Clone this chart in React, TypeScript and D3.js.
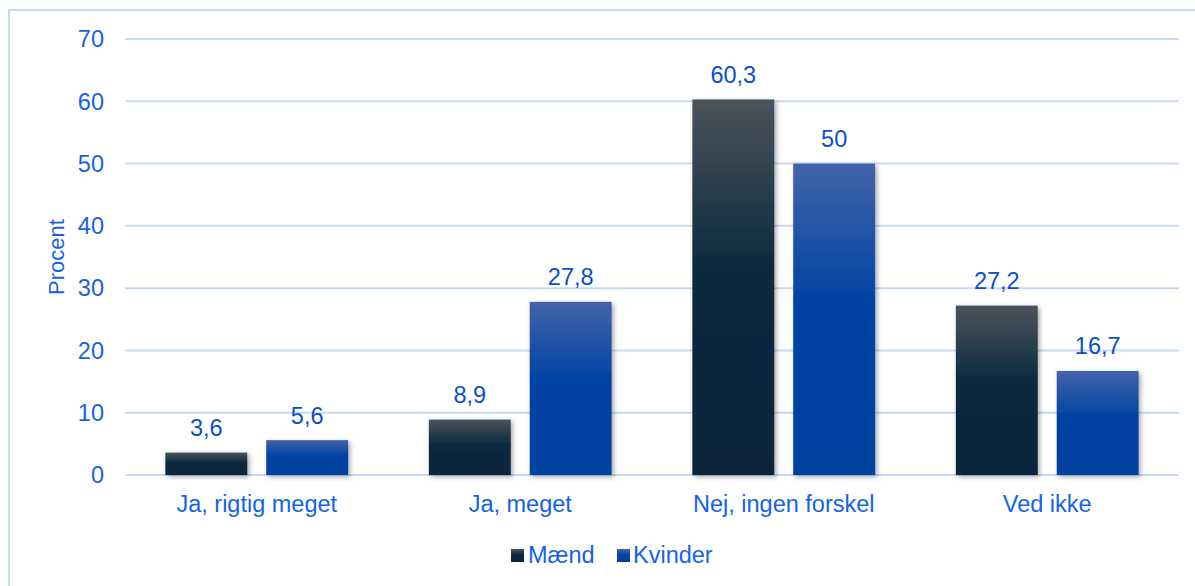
import React from "react";
import * as d3 from "d3";

const categories = ["Ja, rigtig meget", "Ja, meget", "Nej, ingen forskel", "Ved ikke"];
const seriesNames = ["Mænd", "Kvinder"];
const maend = [3.6, 8.9, 60.3, 27.2];
const kvinder = [5.6, 27.8, 50, 16.7];
const yTicks = [0, 10, 20, 30, 40, 50, 60, 70];

const W = 1195, H = 586;
const M = { left: 125, right: 16, top: 39, bottom: 111 };

export default function App() {
  const x0 = d3.scaleBand().domain(categories).range([M.left, W - M.right]).paddingInner(0).paddingOuter(0);
  const y = d3.scaleLinear().domain([0, 70]).range([H - M.bottom, M.top]);
  const x1 = d3.scaleBand().domain(seriesNames).range([0, x0.bandwidth()]).paddingInner(0.188).paddingOuter(0.4);
  const values = [maend, kvinder];
  const fills = ["url(#gM)", "url(#gK)"];
  const fmt = (v: number) => String(v).replace(".", ",");
  const tickColor = "#1463e6";
  const labelColor = "#0b4fc8";
  const font = "'Liberation Sans', Arial, sans-serif";
  const fs = 23.5;
  return (
    <svg width={W} height={H} style={{ position: "absolute", left: 0, top: 0 }} fontFamily={font}>
      <defs>
        <linearGradient id="gM" x1="0" y1="0" x2="0" y2="1">
          <stop offset="0" stopColor="#4a535c" />
          <stop offset="0.45" stopColor="#0c2a3e" />
          <stop offset="1" stopColor="#08243a" />
        </linearGradient>
        <linearGradient id="gK" x1="0" y1="0" x2="0" y2="1">
          <stop offset="0" stopColor="#4263a9" />
          <stop offset="0.45" stopColor="#0043a3" />
          <stop offset="1" stopColor="#0042a0" />
        </linearGradient>
        <filter id="sh" x="-20%" y="-20%" width="140%" height="140%">
          <feDropShadow dx="2" dy="2" stdDeviation="2.5" floodColor="#000" floodOpacity="0.35" />
        </filter>
      </defs>
      <rect x={0} y={0} width={W} height={H} fill="#fff" />
      <rect x={9} y={10} width={W + 20} height={H + 20} fill="none" stroke="#c6daf7" strokeWidth={2} />
      {yTicks.map((t) => (
        <g key={t}>
          <line x1={M.left} x2={W - M.right} y1={y(t)} y2={y(t)} stroke="#c6daf7" strokeWidth={2} />
          <text x={104} y={y(t)} dy="0.35em" textAnchor="end" fontSize={fs} fill={tickColor}>{t}</text>
        </g>
      ))}
      <text transform={`translate(64,${(y(0) + y(70)) / 2}) rotate(-90)`} textAnchor="middle" fontSize={22} fill={tickColor}>Procent</text>
      {categories.map((c, i) => (
        <g key={c} transform={`translate(${x0(c)},0)`}>
          {seriesNames.map((s, j) => {
            const v = values[j][i];
            const bx = x1(s)!;
            return (
              <g key={s}>
                <rect x={bx} y={y(v)} width={x1.bandwidth()} height={y(0) - y(v)} fill={fills[j]} filter="url(#sh)" />
                <text x={bx + x1.bandwidth() / 2} y={y(v) - 16.5} textAnchor="middle" fontSize={fs} fill={labelColor}>{fmt(v)}</text>
              </g>
            );
          })}
          <text x={x0.bandwidth() / 2} y={512} textAnchor="middle" fontSize={fs} fill={tickColor}>{c}</text>
        </g>
      ))}
      <g>
        <rect x={511} y={549} width={13} height={13} fill="url(#gM)" />
        <text x={528} y={563} fontSize={fs} fill={tickColor}>Mænd</text>
        <rect x={617} y={549} width={13} height={13} fill="url(#gK)" />
        <text x={633} y={563} fontSize={fs} fill={tickColor}>Kvinder</text>
      </g>
    </svg>
  );
}
